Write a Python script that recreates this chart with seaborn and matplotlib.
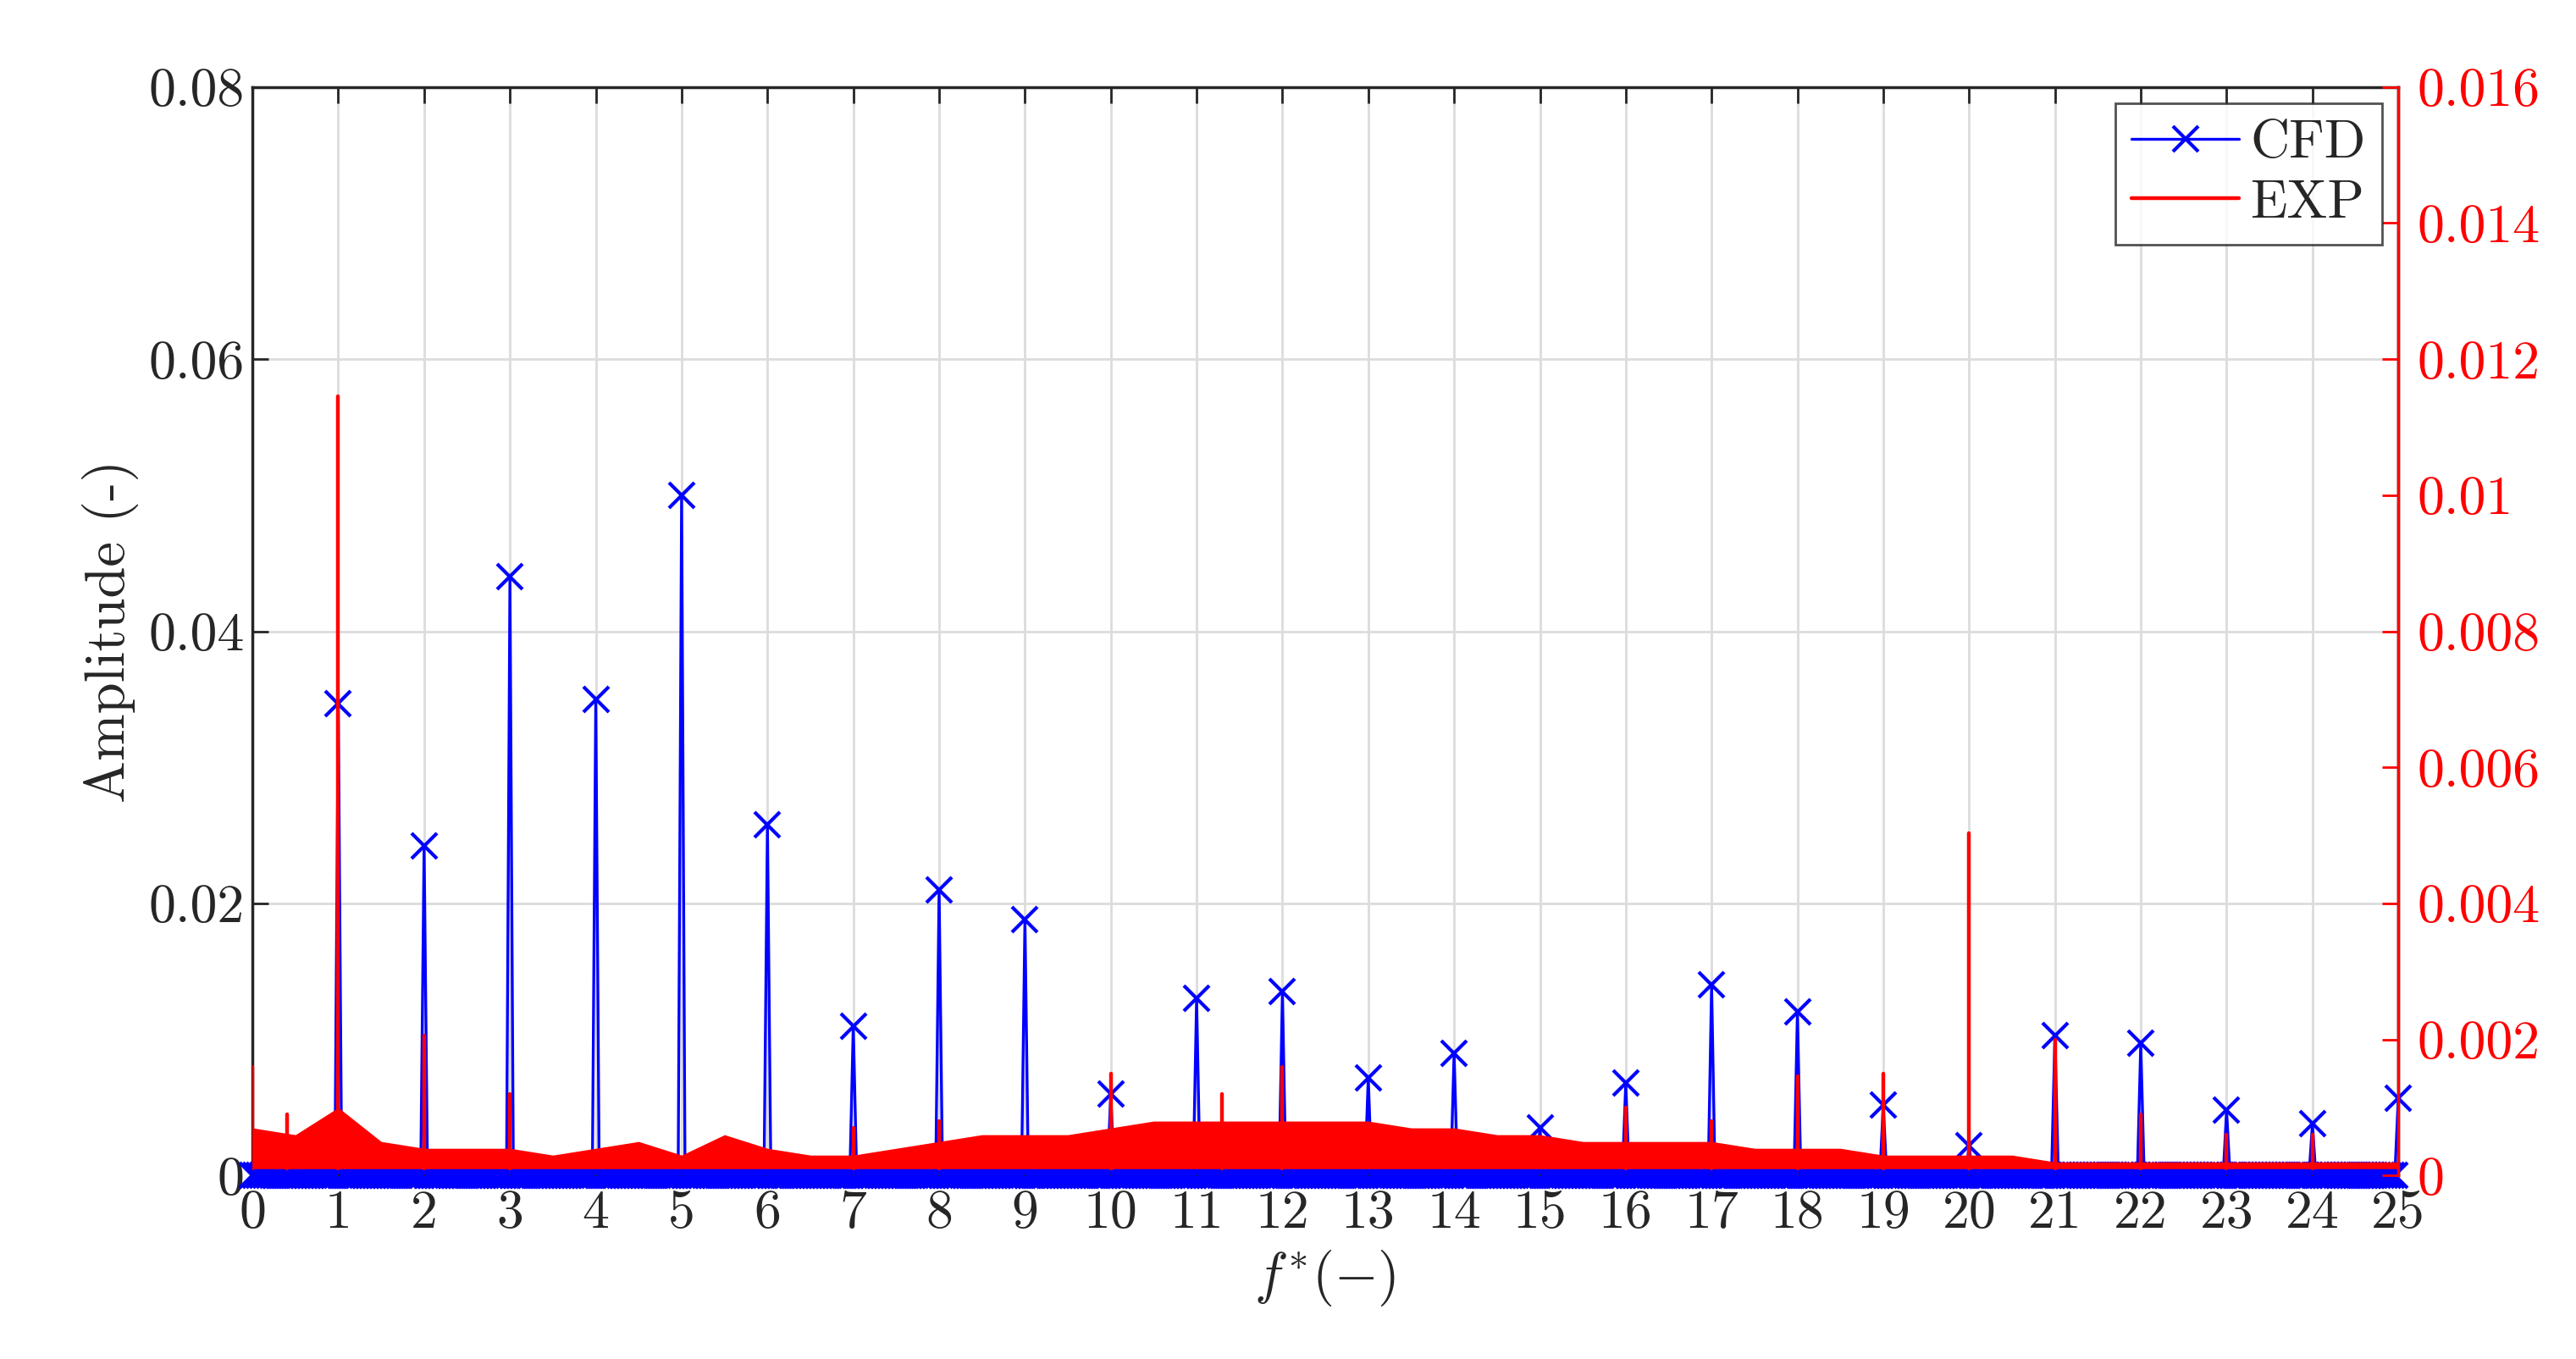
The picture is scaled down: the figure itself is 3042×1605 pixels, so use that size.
import matplotlib

matplotlib.use("Agg")
import matplotlib.pyplot as plt
import numpy as np
import seaborn as sns
from matplotlib.lines import Line2D

# CFD harmonic peaks (left axis)
cfd_harmonics = list(range(1, 26))
cfd_peaks = [0.0347, 0.0242, 0.0440, 0.0350, 0.0500, 0.0258, 0.0110, 0.0210, 0.0188,
             0.0060, 0.0130, 0.0135, 0.0072, 0.0090, 0.0035, 0.0068, 0.0140, 0.0120,
             0.0052, 0.0022, 0.0103, 0.0097, 0.0048, 0.0038, 0.0057]
cfd_step = 0.04

# EXP noise floor (right axis), read every 0.5
exp_floor_f = [i * 0.5 for i in range(51)]
exp_floor = [0.0007, 0.0006, 0.0010, 0.0005, 0.0004, 0.0004, 0.0004, 0.0003, 0.0004,
             0.0005, 0.0003, 0.0006, 0.0004, 0.0003, 0.0003, 0.0004, 0.0005, 0.0006,
             0.0006, 0.0006, 0.0007, 0.0008, 0.0008, 0.0008, 0.0008, 0.0008, 0.0008,
             0.0007, 0.0007, 0.0006, 0.0006, 0.0005, 0.0005, 0.0005, 0.0005, 0.0004,
             0.0004, 0.0004, 0.0003, 0.0003, 0.0003, 0.0003, 0.0002, 0.0002, 0.0002,
             0.0002, 0.0002, 0.0002, 0.0002, 0.0002, 0.0002]
exp_base = 0.0001
# EXP spikes
exp_spike_f = [0.0, 0.4, 1.0, 2.0, 3.0, 7.0, 8.0, 10.0, 11.3, 12.0, 16.0, 17.0, 18.0,
               19.0, 20.0, 21.0, 22.0, 23.0, 24.0]
exp_spike_v = [0.0016, 0.0009, 0.01146, 0.00206, 0.0012, 0.0007, 0.0008, 0.0015,
               0.0012, 0.0016, 0.0010, 0.0008, 0.00146, 0.0015, 0.00503, 0.0020,
               0.0009, 0.0006, 0.0006]

sns.set_theme(style="white")
plt.rcParams["font.family"] = ["cmr10", "DejaVu Serif"]
plt.rcParams["mathtext.fontset"] = "cm"
plt.rcParams["axes.unicode_minus"] = False

fig, ax = plt.subplots(figsize=(15.21, 8.025), dpi=200)
fig.subplots_adjust(left=0.098, right=0.931, top=0.936, bottom=0.135)
ax2 = ax.twinx()

# EXP: filled noise band plus spikes
xf = np.array(exp_floor_f)
yf = np.array(exp_floor)
ax2.fill_between(xf, exp_base, yf, color="red", lw=0, zorder=2)
for f, v in zip(exp_spike_f, exp_spike_v):
    ax2.plot([f, f], [exp_base, v], color="red", lw=1.6, zorder=3)

# CFD: spectrum on a fine grid, zero except at harmonics
freq = np.arange(0, 25 + cfd_step / 2, cfd_step)
amp = np.zeros_like(freq)
for h, p in zip(cfd_harmonics, cfd_peaks):
    amp[np.argmin(np.abs(freq - h))] = p
ax.plot(freq, amp, color="blue", lw=1.2, marker="x", ms=11, mew=1.5,
        clip_on=False, zorder=4)

ax.set_zorder(1)
ax2.set_zorder(2)
ax2.patch.set_visible(False)

ax.set_xlim(0, 25)
ax.set_ylim(0, 0.08)
ax2.set_ylim(0, 0.016)
ax.set_xticks(range(26))
ax.set_xticklabels([str(i) for i in range(26)])
ax.set_yticks([0, 0.02, 0.04, 0.06, 0.08])
ax.set_yticklabels(["0", "0.02", "0.04", "0.06", "0.08"])
ax2.set_yticks([0, 0.002, 0.004, 0.006, 0.008, 0.01, 0.012, 0.014, 0.016])
ax2.set_yticklabels(["0", "0.002", "0.004", "0.006", "0.008", "0.01", "0.012",
                     "0.014", "0.016"])
ax.grid(True, color="#dcdcdc", lw=1.0)
ax.set_axisbelow(True)

fs = 23
ax.tick_params(axis="both", labelsize=fs, direction="in", length=7, width=1,
               color="#262626", left=True, bottom=True, top=True)
ax.tick_params(axis="x", pad=6)
ax2.tick_params(axis="y", labelsize=fs, colors="red", direction="in", length=7,
                width=1, right=True, pad=8)
ax.set_xlabel(r"$f^{*}(-)$", fontsize=fs + 1, color="#262626")
ax.set_ylabel("Amplitude (-)", fontsize=fs + 1, color="#262626")
for s in ["left", "top", "bottom"]:
    ax.spines[s].set_color("#262626")
ax2.spines["right"].set_color("red")
for s in ["left", "top", "bottom"]:
    ax2.spines[s].set_visible(False)

handles = [Line2D([], [], color="blue", marker="x", ms=11, mew=1.5, lw=1.2),
           Line2D([], [], color="red", lw=1.6)]
leg = ax2.legend(handles, ["CFD", "EXP"], loc="upper right", fontsize=fs,
                 frameon=True, fancybox=False, edgecolor="#262626",
                 handlelength=2.0, handletextpad=0.2, borderaxespad=0.3,
                 labelspacing=0.2, borderpad=0.3)
leg.get_frame().set_linewidth(1.0)

fig.savefig("out.png", dpi=200)
